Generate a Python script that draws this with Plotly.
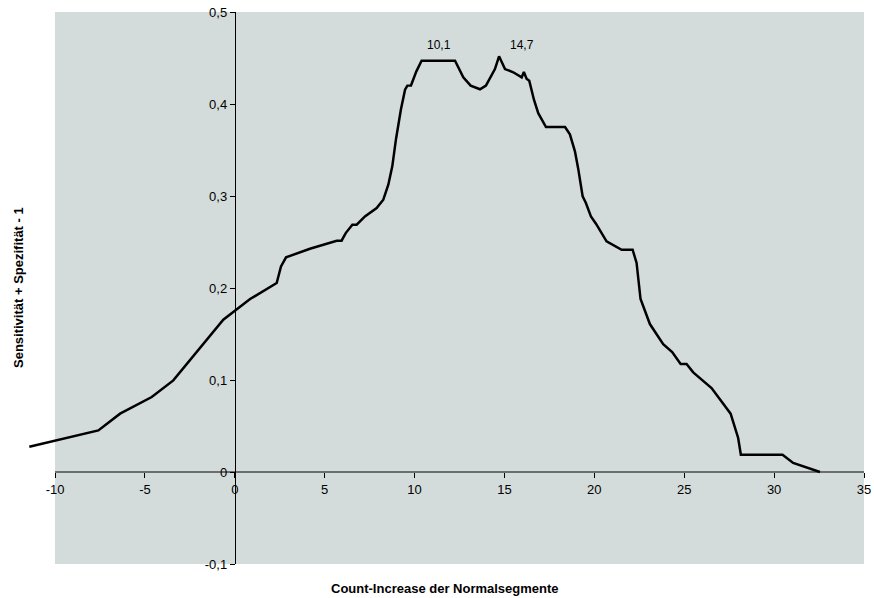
import plotly.graph_objects as go

# Youden index (Sensitivität + Spezifität - 1) against the count-increase cut-off
cutoff = [-11.43, -7.59, -6.38, -4.62, -3.42, -1.94, -0.64, 0.85, 2.33, 2.57,
          2.85, 4.18, 5.67, 5.94, 6.17, 6.54, 6.78, 7.24, 7.89, 8.26,
          8.54, 8.76, 8.97, 9.24, 9.47, 9.6, 9.8, 10.1, 10.39, 12.25,
          12.71, 13.12, 13.64, 13.97, 14.47, 14.7, 15.03, 15.49, 15.96, 16.08,
          16.23, 16.38, 16.64, 16.88, 17.31, 18.37, 18.64, 18.92, 19.1, 19.35,
          19.53, 19.81, 20.09, 20.68, 21.52, 22.13, 22.35, 22.57, 22.81, 23.09,
          23.83, 24.33, 24.8, 25.13, 25.5, 26.52, 27.58, 28.0, 28.15, 30.47,
          31.06, 32.55]
youden = [0.0275, 0.0452, 0.0634, 0.0815, 0.0996, 0.1348, 0.1655, 0.188, 0.2054, 0.2235,
          0.2333, 0.2427, 0.2514, 0.2514, 0.2597, 0.2688, 0.2688, 0.2778, 0.2869, 0.296,
          0.3123, 0.3322, 0.3623, 0.394, 0.4155, 0.42, 0.4202, 0.4355, 0.447, 0.447,
          0.429, 0.420, 0.416, 0.420, 0.438, 0.4518, 0.438, 0.4345, 0.429, 0.4348,
          0.4275, 0.4253, 0.4047, 0.390, 0.375, 0.375, 0.367, 0.3485, 0.330, 0.2996,
          0.2924, 0.2778, 0.2699, 0.2507, 0.2416, 0.2416, 0.2272, 0.188, 0.1746, 0.1608,
          0.139, 0.1304, 0.1174, 0.1174, 0.1083, 0.0913, 0.0634, 0.037, 0.0188, 0.0188,
          0.0098, 0.0]

# labelled optimum cut-offs
peak_x = [10.1, 14.7]
peak_labels = ["10,1", "14,7"]

x_ticks = [-10, -5, 0, 5, 10, 15, 20, 25, 30, 35]
x_tick_text = ["-10", "-5", "0", "5", "10", "15", "20", "25", "30", "35"]
y_ticks = [-0.1, 0, 0.1, 0.2, 0.3, 0.4, 0.5]
y_tick_text = ["-0,1", "0", "0,1", "0,2", "0,3", "0,4", "0,5"]

x_title = "Count-Increase der Normalsegmente"
y_title = "Sensitivität + Spezifität - 1"

FONT = "Liberation Sans, Arial, sans-serif"
BG = "#d4dcdb"

x_range = [-11.67, 35]
y_range = [-0.1, 0.5]
y_axis_pos = (0 - x_range[0]) / (x_range[1] - x_range[0])
x_axis_pos = (0 - y_range[0]) / (y_range[1] - y_range[0])

fig = go.Figure()
fig.add_trace(go.Scatter(
    x=cutoff, y=youden, mode="lines",
    line=dict(color="black", width=2.5),
    hoverinfo="x+y", showlegend=False,
))

# shaded plot area spans the labelled axis range only
fig.add_shape(type="rect", xref="x", yref="y",
              x0=x_ticks[0], x1=x_ticks[-1], y0=y_range[0], y1=y_range[1],
              fillcolor=BG, line=dict(width=0), layer="below")
# horizontal axis line at y = 0
fig.add_shape(type="line", xref="x", yref="y",
              x0=x_ticks[0], x1=x_ticks[-1], y0=0, y1=0,
              line=dict(color="black", width=1), layer="above")

for px, lab in zip(peak_x, peak_labels):
    fig.add_annotation(x=px, y=0.4645, xref="x", yref="y", text=lab,
                       showarrow=False, xshift=23,
                       font=dict(family=FONT, size=12, color="black"))

fig.add_annotation(x=0.5, y=0, xref="paper", yref="paper", text=x_title,
                   showarrow=False, yshift=-24, yanchor="middle",
                   font=dict(family=FONT, size=13, color="black", weight="bold"))
fig.add_annotation(x=0, y=0.5, xref="paper", yref="paper", text=y_title,
                   showarrow=False, textangle=-90, xanchor="center", xshift=-7,
                   font=dict(family=FONT, size=13, color="black", weight="bold"))

fig.update_layout(
    width=874, height=598,
    margin=dict(l=25, r=10, t=12, b=34),
    paper_bgcolor="white", plot_bgcolor="white",
    font=dict(family=FONT, size=13, color="black"),
    xaxis=dict(range=x_range, anchor="free", position=x_axis_pos,
               automargin=False,
               tickvals=x_ticks, ticktext=x_tick_text,
               ticks="outside", ticklen=5, tickcolor="black", tickwidth=1,
               showgrid=False, zeroline=False, showline=False,
               tickfont=dict(family=FONT, size=13, color="black")),
    yaxis=dict(range=y_range, anchor="free", position=y_axis_pos,
               automargin=False,
               tickvals=y_ticks, ticktext=y_tick_text,
               ticks="outside", ticklen=5, tickcolor="black", tickwidth=1,
               showgrid=False, zeroline=False, showline=True,
               linecolor="black", linewidth=1,
               tickfont=dict(family=FONT, size=13, color="black")),
)

fig.write_html("out.html")
